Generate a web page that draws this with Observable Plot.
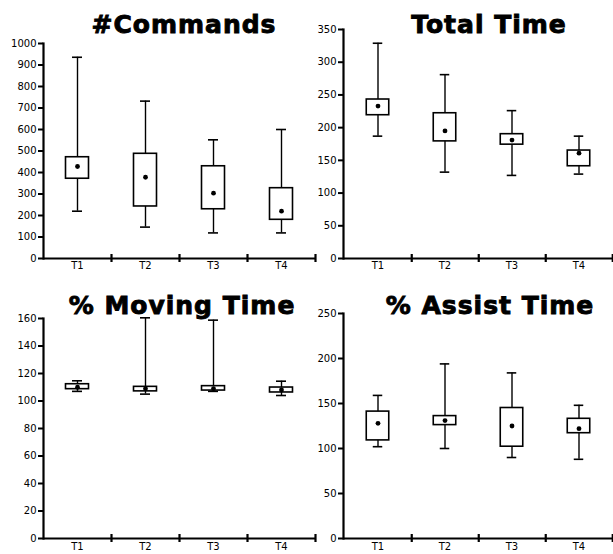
<!DOCTYPE html>
<html>
<head>
<meta charset="utf-8">
<script src="https://cdn.jsdelivr.net/npm/d3@7"></script>
<script src="https://cdn.jsdelivr.net/npm/@observablehq/plot@0.6"></script>
<style>
  html, body { margin: 0; padding: 0; background: white; }
  #root { position: relative; width: 613px; height: 554px; overflow: hidden; background: white; }
  .panel { position: absolute; }
  .title {
    position: absolute; width: 300px; text-align: center;
    font-family: "DejaVu Sans", sans-serif; font-weight: bold; font-size: 25px;
    line-height: 25px; letter-spacing: 1px; color: black;
    -webkit-text-stroke: 0.9px black; white-space: nowrap;
  }
</style>
</head>
<body>
<div id="root"></div>
<script>
// ---- data ----
const categories = ["T1", "T2", "T3", "T4"];

const titles = ["#Commands", "Total Time", "% Moving Time", "% Assist Time"];

const commandsLow  = [220, 146, 119, 119];
const commandsQ1   = [371, 242, 229, 180];
const commandsMid  = [428, 378, 304, 220];
const commandsQ3   = [471, 487, 429, 327];
const commandsHigh = [936, 732, 552, 600];
const commandsTicks = [0, 100, 200, 300, 400, 500, 600, 700, 800, 900, 1000];

const totalLow  = [187, 132, 127, 129];
const totalQ1   = [219, 179, 174, 141];
const totalMid  = [233, 195, 181, 161];
const totalQ3   = [243, 222, 190, 165];
const totalHigh = [329, 281, 226, 187];
const totalTicks = [0, 50, 100, 150, 200, 250, 300, 350];

const movingLow  = [107, 105, 107, 104];
const movingQ1   = [108.6, 107, 107.6, 106.2];
const movingMid  = [110, 109, 109, 108];
const movingQ3   = [112.2, 110.3, 110.8, 109.8];
const movingHigh = [114.7, 160.5, 158.8, 114.4];
const movingTicks = [0, 20, 40, 60, 80, 100, 120, 140, 160];

const assistLow  = [102, 100, 90, 88];
const assistQ1   = [109, 126, 102, 117];
const assistMid  = [128, 131, 125, 122];
const assistQ3   = [141, 136, 145, 133];
const assistHigh = [159, 194, 184, 148];
const assistTicks = [0, 50, 100, 150, 200, 250];

// ---- layout (pixels) ----
const panels = [
  {title: titles[0], low: commandsLow, q1: commandsQ1, mid: commandsMid, q3: commandsQ3, high: commandsHigh, ticks: commandsTicks,
   left: 0, top: 0, width: 315, height: 275, mt: 43, mb: 17, pad: 3, tx: 184, ty: 12},
  {title: titles[1], low: totalLow, q1: totalQ1, mid: totalMid, q3: totalQ3, high: totalHigh, ticks: totalTicks,
   left: 300, top: 0, width: 313, height: 275, mt: 29, mb: 17, pad: 3, tx: 489, ty: 12},
  {title: titles[2], low: movingLow, q1: movingQ1, mid: movingMid, q3: movingQ3, high: movingHigh, ticks: movingTicks,
   left: 0, top: 280, width: 315, height: 274, mt: 38, mb: 16, pad: 4, tx: 182, ty: 293},
  {title: titles[3], low: assistLow, q1: assistQ1, mid: assistMid, q3: assistQ3, high: assistHigh, ticks: assistTicks,
   left: 300, top: 280, width: 313, height: 274, mt: 33, mb: 16, pad: 4, tx: 490, ty: 293}
];

const root = document.getElementById("root");

for (const p of panels) {
  const data = categories.map((c, i) => ({cat: c, low: p.low[i], q1: p.q1[i], mid: p.mid[i], q3: p.q3[i], high: p.high[i]}));
  const ymax = p.ticks[p.ticks.length - 1];
  const bw = (p.width - 43) / 4;
  const boxInset = (bw - 23) / 2;
  const capInset = (bw - 10) / 2;
  const chart = Plot.plot({
    width: p.width,
    height: p.height,
    marginLeft: 43,
    marginRight: 0,
    marginTop: p.mt,
    marginBottom: p.mb,
    style: {background: "transparent", overflow: "visible", fontFamily: "DejaVu Sans, sans-serif", fontSize: "10px", color: "black"},
    x: {type: "band", domain: categories, padding: 0, label: null},
    y: {domain: [0, ymax], label: null},
    marks: [
      Plot.axisY({ticks: p.ticks, tickSize: 5, tickPadding: 2, tickFormat: d => String(d), strokeWidth: 2, label: null}),
      Plot.axisX({tickSize: 0, tickPadding: p.pad, label: null}),
      Plot.frame({anchor: "left", strokeWidth: 2.2}),
      Plot.ruleY([0], {strokeWidth: 2.2}),
      Plot.ruleX(categories, {x: d => d, y1: 0, y2: 0, dx: bw / 2, insetTop: -4, insetBottom: -4, strokeWidth: 2.2}),
      Plot.ruleX(data, {x: "cat", y1: "low", y2: "high", strokeWidth: 1.4}),
      Plot.tickY(data, {x: "cat", y: "low", insetLeft: capInset, insetRight: capInset, strokeWidth: 1.6}),
      Plot.tickY(data, {x: "cat", y: "high", insetLeft: capInset, insetRight: capInset, strokeWidth: 1.6}),
      Plot.barY(data, {x: "cat", y1: "q1", y2: "q3", insetLeft: boxInset, insetRight: boxInset, fill: "white", stroke: "black", strokeWidth: 1.6}),
      Plot.dot(data, {x: "cat", y: "mid", r: 2.4, fill: "black", stroke: "none"})
    ]
  });
  chart.classList.add("panel");
  chart.style.left = p.left + "px";
  chart.style.top = p.top + "px";
  root.appendChild(chart);

  const t = document.createElement("div");
  t.className = "title";
  t.textContent = p.title;
  t.style.left = (p.tx - 150) + "px";
  t.style.top = p.ty + "px";
  root.appendChild(t);
}
</script>
</body>
</html>
